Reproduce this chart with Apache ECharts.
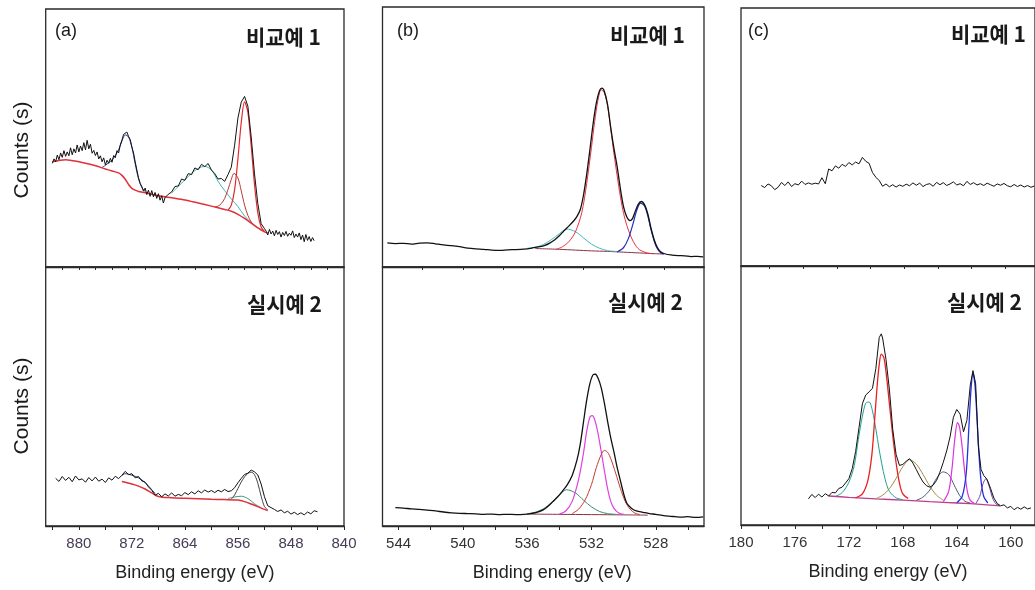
<!DOCTYPE html>
<html>
<head>
<meta charset="utf-8">
<title>XPS spectra</title>
<script src="https://cdn.jsdelivr.net/npm/echarts@6/dist/echarts.min.js"></script>
<style>
  html, body { margin: 0; padding: 0; background: #fff; }
  #chart { width: 1035px; height: 590px; }
</style>
</head>
<body>
<div id="chart"></div>
<script>
// (a) Ni 2p, 비교예 1
const aTopRaw = [[884,40.2],[883.75,41.9],[883.5,40.8],[883.25,43.4],[883,41.6],[882.75,44.2],[882.5,42.5],[882.25,45.1],[882,42.9],[881.75,44.6],[881.5,43.1],[881.25,46.2],[881,43.5],[880.75,45.8],[880.5,44.2],[880.25,47.3],[880,44.6],[879.75,46.9],[879.5,45.1],[879.25,48.2],[879,45.4],[878.75,49.1],[878.5,45.8],[878.25,47.6],[878,44.1],[877.75,45.2],[877.5,43.2],[877.25,44.6],[877,41.9],[876.75,43.1],[876.5,40.8],[876.25,42.3],[876,39.6],[875.75,41.4],[875.5,40.2],[875.25,42.1],[875,40.6],[874.75,43.2],[874.5,42.4],[874.25,45.1],[874,44.2],[873.75,47.3],[873.5,49.2],[873.25,51.4],[873,51.9],[872.75,52.3],[872.5,50.6],[872.25,49.4],[872,46.5],[871.75,44.2],[871.5,40.8],[871.25,37.6],[871,34.6],[870.75,32.4],[870.5,31.2],[870.25,29.4],[870,30.6],[869.75,28.1],[869.5,29.8],[869.25,27.4],[869,29.6],[868.75,27.2],[868.5,28.9],[868.25,26.6],[868,28.4],[867.75,25.9],[867.5,27.6],[867.25,24.8],[867,26.9],[866.75,27.4],[866.5,28.2],[866.25,27.6],[866,29.1],[865.5,31.2],[865,31.4],[864.5,34.1],[864,33.6],[863.5,36.2],[863,35.8],[862.5,38.4],[862,37.7],[861.5,39.8],[861,38.9],[860.5,40.1],[860,37.6],[859.5,36.2],[859,34.1],[858.5,34.3],[858,33.2],[857.5,35.8],[857,38.7],[856.5,47.2],[856,57.8],[855.5,63.9],[855,66.1],[854.5,62.3],[854,50.4],[853.5,36.1],[853,24.6],[852.5,16.8],[852,14.9],[851.75,13.9],[851.5,12.4],[851.25,14.6],[851,12.8],[850.75,13.9],[850.5,12.1],[850.25,14.2],[850,12.6],[849.75,13.7],[849.5,11.6],[849.25,13.4],[849,12.2],[848.75,13.8],[848.5,11.9],[848.25,13.1],[848,12.3],[847.75,14.0],[847.5,11.4],[847.25,12.8],[847,11.6],[846.75,13.2],[846.5,10.6],[846.25,12.4],[846,9.8],[845.75,12.6],[845.5,10.3],[845.25,11.8],[845,9.9],[844.75,11.4],[844.5,10.2]];
const aTopBg = [[884,40.8],[882,41.6],[880,40.8],[878,39.6],[876,38],[875,37.2],[874,36.5],[873.5,35.5],[873,34],[872.5,32],[872,30.5],[871.5,29.8],[871,29.3],[870,28.8],[868,27.6],[866,26.8],[864,26],[862,24.8],[860,23.6],[858,22.3],[857,21.6],[856,20.4],[855,18.8],[854,17],[853,15.2],[852,13.6],[851.5,13.2]];
const aTopSat = [[876.5,38.6],[876,39.4],[875.5,40.4],[875,41.4],[874.5,43.2],[874,45.4],[873.5,48.8],[873,51.2],[872.5,50.4],[872,46.4],[871.5,40],[871,34.2],[870.5,30.8],[870,29.2]];
const aTopCyan = [[866,28.6],[865,31.2],[864,33.8],[863,36.3],[862,38.2],[861,39],[860,37.6],[859,33.2],[858,29.6],[857,26.4],[856,23.4],[855,19.8],[854,17.2],[853,15.2],[852.5,14.2]];
const aTopRed2 = [[859.5,23.3],[859,23.6],[858.5,24.6],[858,26.6],[857.5,30],[857,34],[856.6,36.3],[856,34.5],[855.5,29.5],[855,24],[854.5,20],[854,17.5],[853.5,16]];
const aTopRed1 = [[857.5,22],[857,24],[856.5,30],[856,42],[855.5,56],[855,64],[854.5,60],[854,47],[853.5,32],[853,21],[852.5,15.5],[852,13.8]];

// (a) Ni 2p, 실시예 2
const aBotRaw = [[883.5,18.4],[883,17.2],[882.5,19.1],[882,17.6],[881.5,18.8],[881,17.1],[880.5,19.3],[880,17.8],[879.5,18.2],[879,16.9],[878.5,18.7],[878,17.4],[877.5,18.9],[877,17.3],[876.5,18.1],[876,16.8],[875.5,18.6],[875,17.7],[874.5,19.2],[874,18.3],[873.5,19.6],[873,21.1],[872.5,19.8],[872,20.2],[871.5,18.6],[871,19.1],[870.5,17.4],[870,16.9],[869.5,15.1],[869,13.8],[868.5,11.9],[868,12.6],[867.5,11.3],[867,12.4],[866.5,11.6],[866,12.8],[865.5,11.5],[865,12.2],[864.5,11.7],[864,12.9],[863.5,12.1],[863,13.2],[862.5,12.4],[862,13.6],[861.5,12.8],[861,13.9],[860.5,13.1],[860,13.7],[859.5,12.9],[859,13.8],[858.5,13.2],[858,14.1],[857.5,13.3],[857,13.6],[856.5,14.8],[856,16.7],[855.5,18.4],[855,19.9],[854.5,20.4],[854,21.6],[853.5,20.9],[853,19.7],[852.5,16.2],[852,11.3],[851.5,7.8],[851,7.1],[850.5,6.4],[850,5.6],[849.5,6.2],[849,5.1],[848.5,5.7],[848,4.6],[847.5,5.3],[847,4.4],[846.5,5.1],[846,4.3],[845.5,5.4],[845,4.7],[844.5,5.9],[844,5.5]];
const aBotBg = [[873.5,17.2],[872,16.2],[871,15.4],[870,14.3],[869,12.8],[868,11.4],[866,10.9],[864,10.7],[862,10.5],[860,10.3],[858,10.2],[856,10],[855,9.4],[854,8.5],[853,7.5],[852,6.4],[851.5,6]];
const aBotSat = [[873.5,19.5],[873,20.2],[872,19.6],[871,18.6],[870,16.8],[869,14],[868.5,12.6]];
const aBotFit = [[857,10.4],[856.5,12],[856,14.5],[855.5,17],[855,19],[854.5,20.3],[854,20.8],[853.5,19.8],[853,16.5],[852.5,11.5],[852,7.5],[851.5,6.2]];
const aBotTeal = [[857.5,10.6],[856.5,11.2],[855.5,11.5],[854.5,10.6],[853.5,8.6],[852.5,7]];

// (b) O 1s, 비교예 1
const bTopRaw = [[544.7,9.3],[544.2,9.0],[543.7,9.1],[543.2,8.8],[542.7,9.2],[542.2,9.3],[541.7,8.9],[541.2,8.5],[540.7,8.2],[540.2,7.8],[539.7,7.3],[539.2,7.0],[538.7,6.8],[538.2,6.5],[537.7,6.4],[537.2,6.6],[536.7,6.7],[536.2,6.9],[535.7,7.3],[535.2,7.8],[534.9,8.3],[534.6,9.2],[534.3,10.4],[534.0,12.0],[533.7,14.0],[533.4,15.8],[533.1,17.8],[532.9,19.5],[532.7,22.0],[532.5,27.5],[532.3,35.5],[532.1,45.0],[531.9,55.0],[531.7,63.0],[531.5,67.8],[531.35,68.8],[531.2,67.6],[531.0,62.5],[530.8,53.5],[530.6,45.5],[530.4,38.5],[530.2,30.0],[530.0,23.0],[529.8,19.2],[529.6,17.8],[529.45,18.6],[529.3,21.0],[529.1,24.0],[528.9,25.2],[528.7,24.0],[528.5,20.5],[528.3,15.0],[528.1,10.5],[527.9,7.5],[527.7,5.9],[527.4,5.0],[527.0,4.6],[526.6,4.4],[526.2,4.3],[525.8,4.0],[525.4,4.1],[525.05,3.9]];
const bTopBg = [[535.5,7.1],[534,6.8],[533,6.5],[532,6.2],[531,6.0],[530,5.7],[529,5.4],[528,5.1],[527.5,5.0]];
const bTopCyan = [[536,7.2],[535.5,7.6],[535,8.6],[534.5,10.5],[534,12.8],[533.55,14.6],[533,13.6],[532.5,11.2],[532,8.8],[531.5,7.2],[531,6.3],[530.5,6.0]];
const bTopRed = [[534.2,6.8],[533.8,7.8],[533.4,9.8],[533,13.5],[532.6,21],[532.3,32],[532,46],[531.8,56],[531.6,64],[531.4,68.2],[531.2,67],[531,62],[530.8,53],[530.6,43.5],[530.4,35],[530.2,27],[530,20.5],[529.8,16],[529.6,12.5],[529.4,9.8],[529.2,7.8],[529,6.6],[528.6,5.5],[528.2,5.1]];
const bTopBlue = [[530.4,5.8],[530,7.5],[529.7,11],[529.4,17],[529.2,21.5],[528.95,24.6],[528.7,23.5],[528.5,19.8],[528.3,14.5],[528.1,10],[527.9,7],[527.7,5.5],[527.5,5.0]];

// (b) O 1s, 실시예 2
const bBotRaw = [[544.2,7.1],[543.7,6.9],[543.2,6.6],[542.7,6.4],[542.2,6.1],[541.7,5.8],[541.2,5.4],[540.7,5.1],[540.2,4.9],[539.7,4.8],[539.2,4.7],[538.7,4.5],[538.2,4.6],[537.7,4.4],[537.2,4.5],[536.7,4.4],[536.2,4.5],[535.8,4.8],[535.4,5.3],[535.0,6.2],[534.7,7.6],[534.4,9.4],[534.1,11.3],[533.8,13.5],[533.5,16.0],[533.2,19.5],[532.9,25.5],[532.7,31.5],[532.5,40.0],[532.3,48.5],[532.1,55.0],[531.9,58.4],[531.75,58.6],[531.6,57.2],[531.4,53.5],[531.2,47.5],[531.0,40.5],[530.8,34.0],[530.6,28.5],[530.4,22.5],[530.2,17.5],[530.0,12.5],[529.8,8.8],[529.5,6.8],[529.2,5.8],[528.8,5.3],[528.4,4.8],[528.0,4.5],[527.6,4.1],[527.2,3.8],[526.8,3.6],[526.4,3.4],[526.0,3.6],[525.5,3.3],[525.05,3.5]];
const bBotBg = [[536,4.6],[534,4.5],[532,4.4],[530,4.3],[528.5,4.2]];
const bBotGreen = [[536,4.7],[535.5,5.3],[535,6.6],[534.5,9],[534,12],[533.55,14],[533,12.8],[532.5,10],[532,7.4],[531.5,5.6],[531,4.8],[530.5,4.5]];
const bBotMagenta = [[534,4.6],[533.6,5.8],[533.2,9.5],[532.8,18],[532.5,28],[532.3,36.5],[532.1,42],[531.95,42.6],[531.8,41],[531.6,36],[531.4,29],[531.2,21.5],[531,14.5],[530.8,9.5],[530.6,6.8],[530.3,5],[530,4.5]];
const bBotRed = [[533.2,4.8],[532.8,6.5],[532.4,10],[532,16],[531.7,22.5],[531.4,27.5],[531.2,29.2],[531,28.5],[530.8,26],[530.5,20.5],[530.2,14.5],[529.9,9.5],[529.6,6.5],[529.3,5],[529,4.4]];

// (c) S 2p, 비교예 1
const cTopRaw = [[178.5,31.2],[178.25,30.4],[178,31.8],[177.75,31.1],[177.5,29.6],[177.25,30.5],[177,32.4],[176.75,31.2],[176.5,32.6],[176.25,30.8],[176,31.9],[175.75,31.4],[175.5,32.9],[175.25,31.6],[175,32.2],[174.75,31.7],[174.5,32.1],[174.25,31.8],[174,34.2],[173.75,31.9],[173.5,37.6],[173.25,36.9],[173,38.8],[172.75,37.9],[172.5,39.4],[172.25,38.6],[172,40.1],[171.75,39.2],[171.5,40.3],[171.25,39.6],[171,42.1],[170.75,40.6],[170.5,39.8],[170.25,36.2],[170,34.4],[169.75,33.1],[169.5,30.9],[169.25,31.8],[169,30.7],[168.75,31.5],[168.5,30.6],[168.25,31.4],[168,30.9],[167.75,31.7],[167.5,31.1],[167.25,32.2],[167,31.3],[166.75,32.1],[166.5,30.8],[166.25,31.6],[166,31.9],[165.75,30.9],[165.5,32.4],[165.25,31.5],[165,32.3],[164.75,31.2],[164.5,31.8],[164.25,32.6],[164,31.4],[163.75,31.9],[163.5,31.1],[163.25,32.8],[163,31.6],[162.75,32.3],[162.5,31.4],[162.25,31.9],[162,31.2],[161.75,32.1],[161.5,31.5],[161.25,30.9],[161,31.8],[160.75,31.3],[160.5,32.0],[160.25,31.1],[160,30.7],[159.75,31.6],[159.5,30.8],[159.25,31.4],[159,30.6],[158.75,31.2],[158.5,30.5],[158.25,31.0]];

// (c) S 2p, 실시예 2
const cBotRaw = [[175,10.1],[174.75,11.8],[174.5,10.6],[174.25,11.9],[174,10.8],[173.75,12.1],[173.5,11.2],[173.25,12.6],[173,12.4],[172.75,14.1],[172.5,14.6],[172.25,16.2],[172,17.9],[171.75,21.8],[171.5,28.4],[171.25,37.6],[171,46.8],[170.75,50.2],[170.5,51.4],[170.25,52.8],[170,60.5],[169.75,72.4],[169.6,73.8],[169.5,72.2],[169.25,64.0],[169,52.5],[168.75,37.0],[168.5,27.2],[168.25,23.0],[168,23.4],[167.75,24.6],[167.5,25.6],[167.25,23.9],[167,21.4],[166.75,18.8],[166.5,16.6],[166.25,15.2],[166,14.6],[165.75,15.4],[165.5,17.2],[165.25,20.4],[165,24.2],[164.75,28.6],[164.5,34.0],[164.25,41.6],[164,44.6],[163.75,42.8],[163.5,36.0],[163.25,40.4],[163,54.0],[162.8,59.6],[162.6,54.5],[162.4,30.5],[162.2,21.5],[162,19.1],[161.75,17.6],[161.5,14.2],[161.25,10.4],[161,8.3],[160.75,7.4],[160.5,7.8],[160.25,6.6],[160,7.2],[159.75,5.9],[159.5,6.8],[159.25,6.1],[159,7.0],[158.75,6.2],[158.5,6.6]];
const cBotBg = [[173.5,11.2],[172,10.7],[170,10.1],[168,9.6],[166,9.0],[164,8.5],[162,7.9],[160.8,7.4]];
const cBotTeal = [[173,11],[172.5,12.5],[172,16.5],[171.6,23],[171.3,33],[171,42],[170.75,47],[170.5,47.5],[170.25,44],[170,37],[169.75,29],[169.5,22],[169.25,16.5],[169,13],[168.5,10.5],[168,9.8]];
const cBotRed = [[171.5,10.5],[171,12],[170.6,17],[170.3,27],[170.1,40],[169.9,54],[169.75,62],[169.6,66],[169.4,64.5],[169.2,57],[169,47],[168.8,37],[168.6,28],[168.4,20.5],[168.2,15],[168,12],[167.6,10.2]];
const cBotOlive = [[170,10.2],[169.5,11.5],[169,14],[168.5,18],[168,22.5],[167.5,25.2],[167,23.5],[166.5,19.5],[166,15],[165.5,11.5],[165,9.6]];
const cBotSlate = [[167,9.5],[166.5,10.8],[166,13.5],[165.5,18],[165,20.5],[164.6,19.5],[164.2,15.5],[163.8,11.5],[163.4,9.2],[163,8.5]];
const cBotMagenta = [[165,9],[164.6,13],[164.35,22],[164.15,33],[163.95,39.5],[163.8,38],[163.6,30],[163.4,20],[163.2,12.5],[163,9.5],[162.7,8.4]];
const cBotBlue = [[164,8.6],[163.6,11],[163.3,20],[163.1,38],[162.95,52],[162.8,58.5],[162.65,54],[162.5,41],[162.35,27],[162.2,17],[162,11],[161.7,8.5]];
const cBotPurple = [[162.6,8.2],[162.3,11],[162.05,16],[161.85,17.8],[161.6,15],[161.35,10.5],[161.1,8.2],[160.8,7.4]];

// tick positions
const aLabels = [840, 848, 856, 864, 872, 880];
const aTicks = [840, 844, 848, 852, 856, 860, 864, 868, 872, 876, 880, 884];
const aTopTicks = [842.5, 845, 847.5, 850, 852.5, 855, 857.5, 860, 862.5, 865, 867.5, 870, 872.5, 875, 877.5, 880, 882.5];
const bLabels = [528, 532, 536, 540, 544];
const bTicks = [526, 528, 530, 532, 534, 536, 538, 540, 542, 544];
const bTopTicks = [527.5, 530, 532.5, 535, 537.5, 540, 542.5];
const cLabels = [160, 164, 168, 172, 176, 180];
const cTicks = [160, 162, 164, 166, 168, 170, 172, 174, 176, 178, 180];
const cTopTicks = [160.4, 162.9, 165.4, 167.9, 170.4, 172.9, 175.4, 177.9];

const chart = echarts.init(document.getElementById("chart"));

const LATIN = "'Liberation Sans', Arial, sans-serif";
const KOREAN = "'Noto Sans CJK KR', 'Liberation Sans', sans-serif";

const grids = [
  { left: 45.7, top: 9, width: 298.3, height: 258 },
  { left: 45.7, top: 267, width: 298.3, height: 259 },
  { left: 382.5, top: 7, width: 321.5, height: 260 },
  { left: 382.5, top: 267, width: 321.5, height: 259 },
  { left: 741, top: 8, width: 300, height: 258 },
  { left: 741, top: 266, width: 300, height: 259 },
].map((g) => ({ ...g, show: true, borderColor: "#2a2a2a", borderWidth: 1.3, backgroundColor: "transparent" }));

const ranges = [[840, 885], [840, 885], [525, 545], [525, 545], [158.2, 180], [158.2, 180]];
const topTicks = [aTopTicks, null, bTopTicks, null, cTopTicks, null];
const botTicks = [null, aTicks, null, bTicks, null, cTicks];
const botLabels = [null, aLabels, null, bLabels, null, cLabels];
const namePad = [0, 0, 0, [0, 0, 0, 18], 0, 0];

const xAxes = ranges.map((r, i) => {
  const isBottom = i % 2 === 1;
  return {
    type: "value",
    gridIndex: i,
    min: r[0],
    max: r[1],
    inverse: true,
    splitLine: { show: false },
    axisLine: { show: true, onZero: false, lineStyle: { color: "#2a2a2a", width: 1.3 } },
    axisTick: {
      show: true,
      length: isBottom ? 4 : 3,
      customValues: isBottom ? botTicks[i] : topTicks[i],
      lineStyle: { color: "#2a2a2a", width: 1 },
    },
    axisLabel: isBottom
      ? {
          show: true,
          customValues: botLabels[i],
          margin: 10,
          fontSize: 15,
          fontFamily: LATIN,
          color: i === 1 ? "#463c55" : "#333",
        }
      : { show: false },
    name: isBottom ? "Binding energy (eV)" : "",
    nameLocation: "middle",
    nameGap: 38,
    nameTextStyle: { fontSize: 18, fontFamily: LATIN, color: "#222", padding: namePad[i] },
  };
});

const yAxes = ranges.map((r, i) => ({
  type: "value",
  gridIndex: i,
  min: 0,
  max: 100,
  show: false,
}));

// 一条谱线
const line = (grid, data, color, width, smooth) => ({
  type: "line",
  xAxisIndex: grid,
  yAxisIndex: grid,
  data,
  showSymbol: false,
  smooth: smooth ? 0.3 : false,
  silent: true,
  lineStyle: { color, width },
  z: smooth ? 2 : 3,
});

const series = [
  line(0, aTopCyan, "#3fb8b0", 1, true),
  line(0, aTopRed2, "#b83a3a", 1, true),
  line(0, aTopRed1, "#e8262a", 1.2, true),
  line(0, aTopSat, "#2a3a9a", 1, true),
  line(0, aTopBg, "#e0303a", 1.5, true),
  line(0, aTopRaw, "#111", 1, false),

  line(1, aBotTeal, "#3a9a80", 1, true),
  line(1, aBotFit, "#444", 1, true),
  line(1, aBotSat, "#2a3a7a", 1, true),
  line(1, aBotBg, "#e0303a", 1.5, true),
  line(1, aBotRaw, "#111", 1, false),

  line(2, bTopBg, "#8a3040", 1, true),
  line(2, bTopCyan, "#40b8c0", 1, true),
  line(2, bTopRed, "#e83040", 1, true),
  line(2, bTopBlue, "#2030c0", 1.2, true),
  line(2, bTopRaw, "#111", 1.3, true),

  line(3, bBotBg, "#8a3040", 1, true),
  line(3, bBotGreen, "#3a8a70", 1, true),
  line(3, bBotMagenta, "#e040e0", 1.2, true),
  line(3, bBotRed, "#c83a30", 1, true),
  line(3, bBotRaw, "#111", 1.3, true),

  line(4, cTopRaw, "#111", 1, false),

  line(5, cBotBg, "#c03c90", 1.3, true),
  line(5, cBotTeal, "#20a090", 1, true),
  line(5, cBotRed, "#e82020", 1.3, true),
  line(5, cBotOlive, "#a08a40", 1, true),
  line(5, cBotSlate, "#4a5a78", 1, true),
  line(5, cBotMagenta, "#e030e0", 1.2, true),
  line(5, cBotBlue, "#2030e0", 1.3, true),
  line(5, cBotPurple, "#6a40a8", 1, true),
  line(5, cBotRaw, "#111", 1, false),
];

const text = (x, y, str, opts) => ({
  type: "text",
  x,
  y,
  silent: true,
  rotation: opts.rotation || 0,
  style: {
    text: str,
    fill: "#1a1a1a",
    font: opts.font,
    textAlign: opts.align || "left",
    textVerticalAlign: "middle",
  },
});

const graphic = [
  text(55, 31, "(a)", { font: "18px " + LATIN }),
  text(397, 31, "(b)", { font: "18px " + LATIN }),
  text(748, 31, "(c)", { font: "18px " + LATIN }),
  text(321, 37, "비교예 1", { font: "bold 21px " + KOREAN, align: "right" }),
  text(685, 35, "비교예 1", { font: "bold 21px " + KOREAN, align: "right" }),
  text(1026, 34, "비교예 1", { font: "bold 21px " + KOREAN, align: "right" }),
  text(322, 304, "실시예 2", { font: "bold 21px " + KOREAN, align: "right" }),
  text(683, 302, "실시예 2", { font: "bold 21px " + KOREAN, align: "right" }),
  text(1022, 302, "실시예 2", { font: "bold 21px " + KOREAN, align: "right" }),
  text(22, 150, "Counts (s)", { font: "21px " + LATIN, align: "center", rotation: Math.PI / 2 }),
  text(22, 406, "Counts (s)", { font: "21px " + LATIN, align: "center", rotation: Math.PI / 2 }),
];

chart.setOption({
  animation: false,
  backgroundColor: "#fff",
  grid: grids,
  xAxis: xAxes,
  yAxis: yAxes,
  series,
  graphic,
});

window.addEventListener("resize", () => chart.resize());
</script>
</body>
</html>
